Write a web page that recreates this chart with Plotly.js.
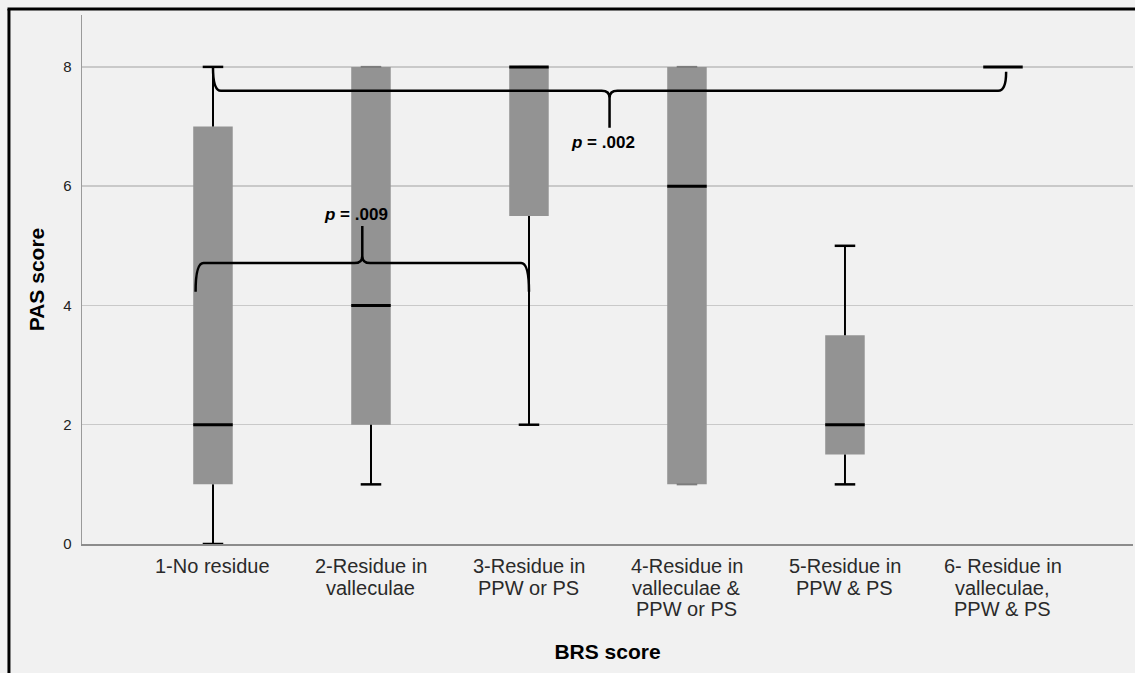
<!DOCTYPE html>
<html>
<head>
<meta charset="utf-8">
<script src="https://cdn.plot.ly/plotly-3.0.1.min.js"></script>
<style>
  html, body { margin: 0; padding: 0; background: #f1f1f1; }
  #chart { width: 1135px; height: 673px; }
</style>
</head>
<body>
<div id="chart"></div>
<script>
// ---- data ----
const categories = [
  '1-No residue',
  '2-Residue in<br>valleculae',
  '3-Residue in<br>PPW or PS',
  '4-Residue in<br>valleculae &<br>PPW or PS',
  '5-Residue in<br>PPW & PS',
  '6- Residue in<br>valleculae,<br>PPW & PS'
];
const minimums  = [0, 1, 2, 1, 1, 8];
const quartile1 = [1, 2, 5.5, 1, 1.5, 8];
const medians   = [2, 4, 8, 6, 2, 8];
const quartile3 = [7, 8, 8, 8, 3.5, 8];
const maximums  = [8, 8, 8, 8, 5, 8];
const yTickVals = [0, 2, 4, 6, 8];

// comparisons: group indices, p-value label
const compFrom   = [0, 0];
const compTo     = [2, 5];
const compLabels = ['.009', '.002'];
const compLevels = [4.71, 7.6];   // height of bracket in PAS units
const compDir    = [1, -1];       // 1 = tip points up, -1 = tip points down

// ---- build ----
const positions = categories.map((_, i) => i + 1);
const boxW = 0.25, capW = 0.065, medW = 0.125;
const FONT = 'Liberation Sans, Arial, sans-serif';

const bars = {
  type: 'bar', x: positions, base: quartile1,
  y: quartile3.map((v, i) => v - quartile1[i]),
  width: boxW, marker: { color: '#939393', line: { width: 0 } },
  hoverinfo: 'skip', showlegend: false
};

const whX = [], whY = [];
positions.forEach((p, i) => {
  if (quartile1[i] > minimums[i]) { whX.push(p, p, null); whY.push(quartile1[i], minimums[i], null); }
  if (maximums[i] > quartile3[i]) { whX.push(p, p, null); whY.push(quartile3[i], maximums[i], null); }
});
const capX = [], capY = [], fcapX = [], fcapY = [];
positions.forEach((p, i) => {
  [[minimums[i], quartile1[i]], [maximums[i], quartile3[i]]].forEach(([v, q]) => {
    if (v !== q) { capX.push(p - capW, p + capW, null); capY.push(v, v, null); }
    else if (quartile1[i] !== quartile3[i]) { fcapX.push(p - capW, p + capW, null); fcapY.push(v, v, null); }
  });
});
const medX = [], medY = [];
positions.forEach((p, i) => { medX.push(p - medW, p + medW, null); medY.push(medians[i], medians[i], null); });

const line = (x, y, c, w) => ({ type: 'scatter', mode: 'lines', x, y, line: { color: c, width: w },
  hoverinfo: 'skip', showlegend: false, connectgaps: false });

const traces = [
  bars,
  line(fcapX, fcapY, '#7c7c7c', 2),
  line(whX, whY, '#000', 2),
  line(capX, capY, '#000', 2.5),
  line(medX, medY, '#000', 3)
];

// brackets
const shapes = [];
const annotations = [];
compFrom.forEach((a, k) => {
  const b = compTo[k];
  const dir = compDir[k];
  let x1 = positions[a], x2 = positions[b];
  if (dir === 1) x1 -= 0.11; else x2 += 0.02;
  const yL = compLevels[k];
  const ends = dir === 1 ? [yL - 0.48, yL - 0.48] : [maximums[a], yL + 0.32];
  const yTip = yL + dir * 0.62;
  const xm = (x1 + x2) / 2;
  const dx = 0.05, dy = 0.12 * dir;
  const p =
    `M ${x1},${ends[0]} ` +
    `Q ${x1},${yL} ${x1 + dx},${yL} ` +
    `L ${xm - dx},${yL} ` +
    `Q ${xm},${yL} ${xm},${yL + dy} ` +
    `L ${xm},${yTip} ` +
    `M ${xm},${yL + dy} ` +
    `Q ${xm},${yL} ${xm + dx},${yL} ` +
    `L ${x2 - dx},${yL} ` +
    `Q ${x2},${yL} ${x2},${ends[1]}`;
  shapes.push({ type: 'path', xref: 'x', yref: 'y', path: p, line: { color: '#000', width: 2.5 } });
  annotations.push({
    xref: 'x', yref: 'y', x: xm - 0.04, y: yTip + dir * (dir === 1 ? 0.2 : 0.25),
    text: `<b><i>p</i> = ${compLabels[k]}</b>`, showarrow: false,
    font: { family: FONT, size: 17, color: '#000' },
    xanchor: 'center', yanchor: 'middle'
  });
});

// category labels (one annotation per text line, tight line spacing as in the reference)
categories.forEach((c, i) => {
  c.split('<br>').forEach((t, j) => {
    annotations.push({
      xref: 'x', yref: 'y', x: positions[i], y: 0, text: t, showarrow: false,
      xanchor: 'center', yanchor: 'middle', yshift: -(22 + 21.5 * j),
      font: { family: FONT, size: 20, color: '#2a2a2a' }
    });
  });
});

// outer frame (left + top)
shapes.push({ type: 'line', xref: 'paper', yref: 'paper', x0: -0.0695, x1: -0.0695, y0: -0.3, y1: 1.0113,
  line: { color: '#000', width: 3 } });
shapes.push({ type: 'line', xref: 'paper', yref: 'paper', x0: -0.0709, x1: 1.05, y0: 1.0113, y1: 1.0113,
  line: { color: '#000', width: 3 } });

const layout = {
  width: 1135, height: 673,
  margin: { l: 82, r: 2, t: 15, b: 129 },
  paper_bgcolor: '#f1f1f1', plot_bgcolor: '#f1f1f1',
  font: { family: FONT, color: '#222' },
  barmode: 'overlay',
  xaxis: {
    range: [0.171, 6.823], tickvals: positions, ticktext: categories, showticklabels: false,
    showgrid: false, zeroline: false, showline: true, linecolor: '#8c8c8c', linewidth: 2,
    ticks: '',
    title: { text: '<b>BRS score</b>', font: { size: 21, color: '#000' }, standoff: 99 },
    automargin: false, fixedrange: true
  },
  yaxis: {
    range: [0, 8.87], tickvals: yTickVals, ticktext: yTickVals.map(String),
    showgrid: true, gridcolor: '#c9c9c9', gridwidth: 1.5, zeroline: false,
    showline: true, linecolor: '#9a9a9a', linewidth: 1.5,
    ticks: '', tickfont: { size: 15, color: '#222' }, ticklabelstandoff: 6,
    title: { text: '<b>PAS score</b>', font: { size: 21, color: '#000' }, standoff: 13 },
    automargin: false, fixedrange: true
  },
  shapes, annotations, showlegend: false
};

Plotly.newPlot('chart', traces, layout, { displayModeBar: false, staticPlot: true });
</script>
</body>
</html>
